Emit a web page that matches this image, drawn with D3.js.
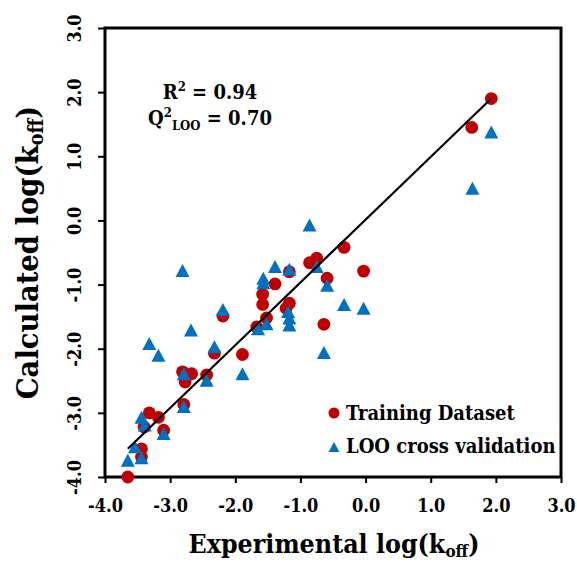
<!DOCTYPE html>
<html>
<head>
<meta charset="utf-8">
<script src="https://cdn.jsdelivr.net/npm/d3@7"></script>
<style>
  html, body { margin: 0; padding: 0; background: #fff; }
  text { font-family: "DejaVu Serif Condensed", "DejaVu Serif", serif; font-weight: bold; font-stretch: condensed; fill: #000; }
</style>
</head>
<body>
<svg id="chart" width="577" height="562"></svg>
<script>
// ---- data ----
const trainX = [1.93, 1.63, -0.33, -0.86, -0.75, -0.03, -0.59, -1.17, -1.39, -1.58, -1.58, -1.17, -1.22, -1.52, -1.67, -0.64, -2.19, -2.32, -1.89, -2.81, -2.67, -2.77, -2.44, -2.79, -3.32, -3.18, -3.10, -3.40, -3.44, -3.44, -3.65];
const trainY = [1.90, 1.45, -0.42, -0.66, -0.59, -0.79, -0.90, -0.80, -0.99, -1.15, -1.31, -1.29, -1.37, -1.52, -1.66, -1.62, -1.49, -2.07, -2.09, -2.36, -2.39, -2.52, -2.41, -2.87, -3.00, -3.07, -3.27, -3.22, -3.56, -3.69, -4.00];
const looX = [1.93, 1.64, -0.86, -0.75, -0.59, -0.33, -0.03, -0.64, -1.39, -1.17, -1.57, -1.57, -1.19, -1.17, -1.17, -1.52, -1.65, -2.19, -2.81, -2.68, -3.32, -3.18, -2.32, -1.89, -2.79, -2.44, -2.79, -3.44, -3.39, -3.10, -3.54, -3.44, -3.65];
const looY = [1.38, 0.50, -0.07, -0.72, -1.01, -1.31, -1.37, -2.06, -0.72, -0.76, -0.90, -0.97, -1.42, -1.52, -1.63, -1.61, -1.69, -1.39, -0.78, -1.71, -1.92, -2.10, -1.97, -2.39, -2.39, -2.49, -2.90, -3.07, -3.19, -3.32, -3.53, -3.70, -3.74];
const fitX = [-3.65, 1.93];
const fitY = [-3.56, 1.90];
const xTicks = [-4, -3, -2, -1, 0, 1, 2, 3];
const yTicks = [-4, -3, -2, -1, 0, 1, 2, 3];
const seriesNames = ["Training Dataset", "LOO cross validation"];
const statR2 = "0.94";
const statQ2 = "0.70";

const RED = "#C00000", BLUE = "#0070C0";
const svg = d3.select("#chart");
const x = d3.scaleLinear().domain([-4, 3]).range([105, 561]);
const y = d3.scaleLinear().domain([-4, 3]).range([477, 28]);
const fmt = d => d.toFixed(1);

function triPath(w, h) {
  return `M0,${-h/2}L${w/2},${h/2}L${-w/2},${h/2}Z`;
}

// axes
const xAxis = svg.append("g").attr("transform", `translate(0,${y(-4)})`)
  .call(d3.axisBottom(x).tickValues(xTicks).tickFormat(fmt).tickSize(6).tickPadding(16));
const yAxis = svg.append("g").attr("transform", `translate(${x(-4)},0)`)
  .call(d3.axisLeft(y).tickValues(yTicks).tickFormat(fmt).tickSize(7).tickPadding(0));
[xAxis, yAxis].forEach(g => {
  g.select(".domain").remove();
  g.selectAll(".tick line").attr("stroke", "#000").attr("stroke-width", 2);
  g.selectAll(".tick text").attr("font-size", 18).style("font-family", null);
});
xAxis.selectAll(".tick text").attr("dy", "0.71em");
yAxis.selectAll(".tick text")
  .attr("x", null).attr("dy", null).attr("text-anchor", "middle")
  .attr("transform", "translate(-24,0) rotate(-90)");

// frame
svg.append("rect").attr("x", x(-4)).attr("y", y(3))
  .attr("width", x(3) - x(-4)).attr("height", y(-4) - y(3))
  .attr("fill", "none").attr("stroke", "#000").attr("stroke-width", 3);

// points
svg.append("g").selectAll("circle").data(d3.range(trainX.length)).join("circle")
  .attr("cx", i => x(trainX[i])).attr("cy", i => y(trainY[i])).attr("r", 6.4).attr("fill", RED);
svg.append("g").selectAll("path").data(d3.range(looX.length)).join("path")
  .attr("d", triPath(14, 13))
  .attr("transform", i => `translate(${x(looX[i])},${y(looY[i])})`).attr("fill", BLUE);

// fit line
svg.append("path").datum(d3.range(fitX.length))
  .attr("d", d3.line().x(i => x(fitX[i])).y(i => y(fitY[i])))
  .attr("stroke", "#000").attr("stroke-width", 2.2).attr("fill", "none");

// stats
const s1 = svg.append("text").attr("x", 210).attr("y", 99).attr("text-anchor", "middle").attr("font-size", 20);
s1.append("tspan").text("R");
s1.append("tspan").attr("dy", -8).attr("font-size", 13).text("2");
s1.append("tspan").attr("dy", 8).text(" = " + statR2);
const s2 = svg.append("text").attr("x", 210).attr("y", 125).attr("text-anchor", "middle").attr("font-size", 20);
s2.append("tspan").text("Q");
s2.append("tspan").attr("dy", -8).attr("font-size", 13).text("2");
s2.append("tspan").attr("dy", 13).attr("font-size", 13).text("LOO");
s2.append("tspan").attr("dy", -5).text(" = " + statQ2);

// legend
const lg = svg.append("g");
lg.append("circle").attr("cx", 334).attr("cy", 413).attr("r", 5.5).attr("fill", RED);
lg.append("text").attr("x", 346).attr("y", 420).attr("font-size", 20).text(seriesNames[0]);
lg.append("path").attr("d", triPath(11, 10)).attr("transform", "translate(334,447)").attr("fill", BLUE);
lg.append("text").attr("x", 346).attr("y", 453).attr("font-size", 20).text(seriesNames[1]);

// axis titles
const xt = svg.append("text").attr("x", (x(-4) + x(3)) / 2 + 1).attr("y", 553).attr("text-anchor", "middle").attr("font-size", 26.5);
xt.append("tspan").text("Experimental log(k");
xt.append("tspan").attr("dy", 4).attr("font-size", 17).text("off");
xt.append("tspan").attr("dy", -4).text(")");
const yt = svg.append("text").attr("transform", `translate(38,${(y(-4) + y(3)) / 2}) rotate(-90)`).attr("text-anchor", "middle").attr("font-size", 30.5);
yt.append("tspan").text("Calculated log(k");
yt.append("tspan").attr("dy", 5).attr("font-size", 20).text("off");
yt.append("tspan").attr("dy", -5).text(")");
</script>
</body>
</html>
